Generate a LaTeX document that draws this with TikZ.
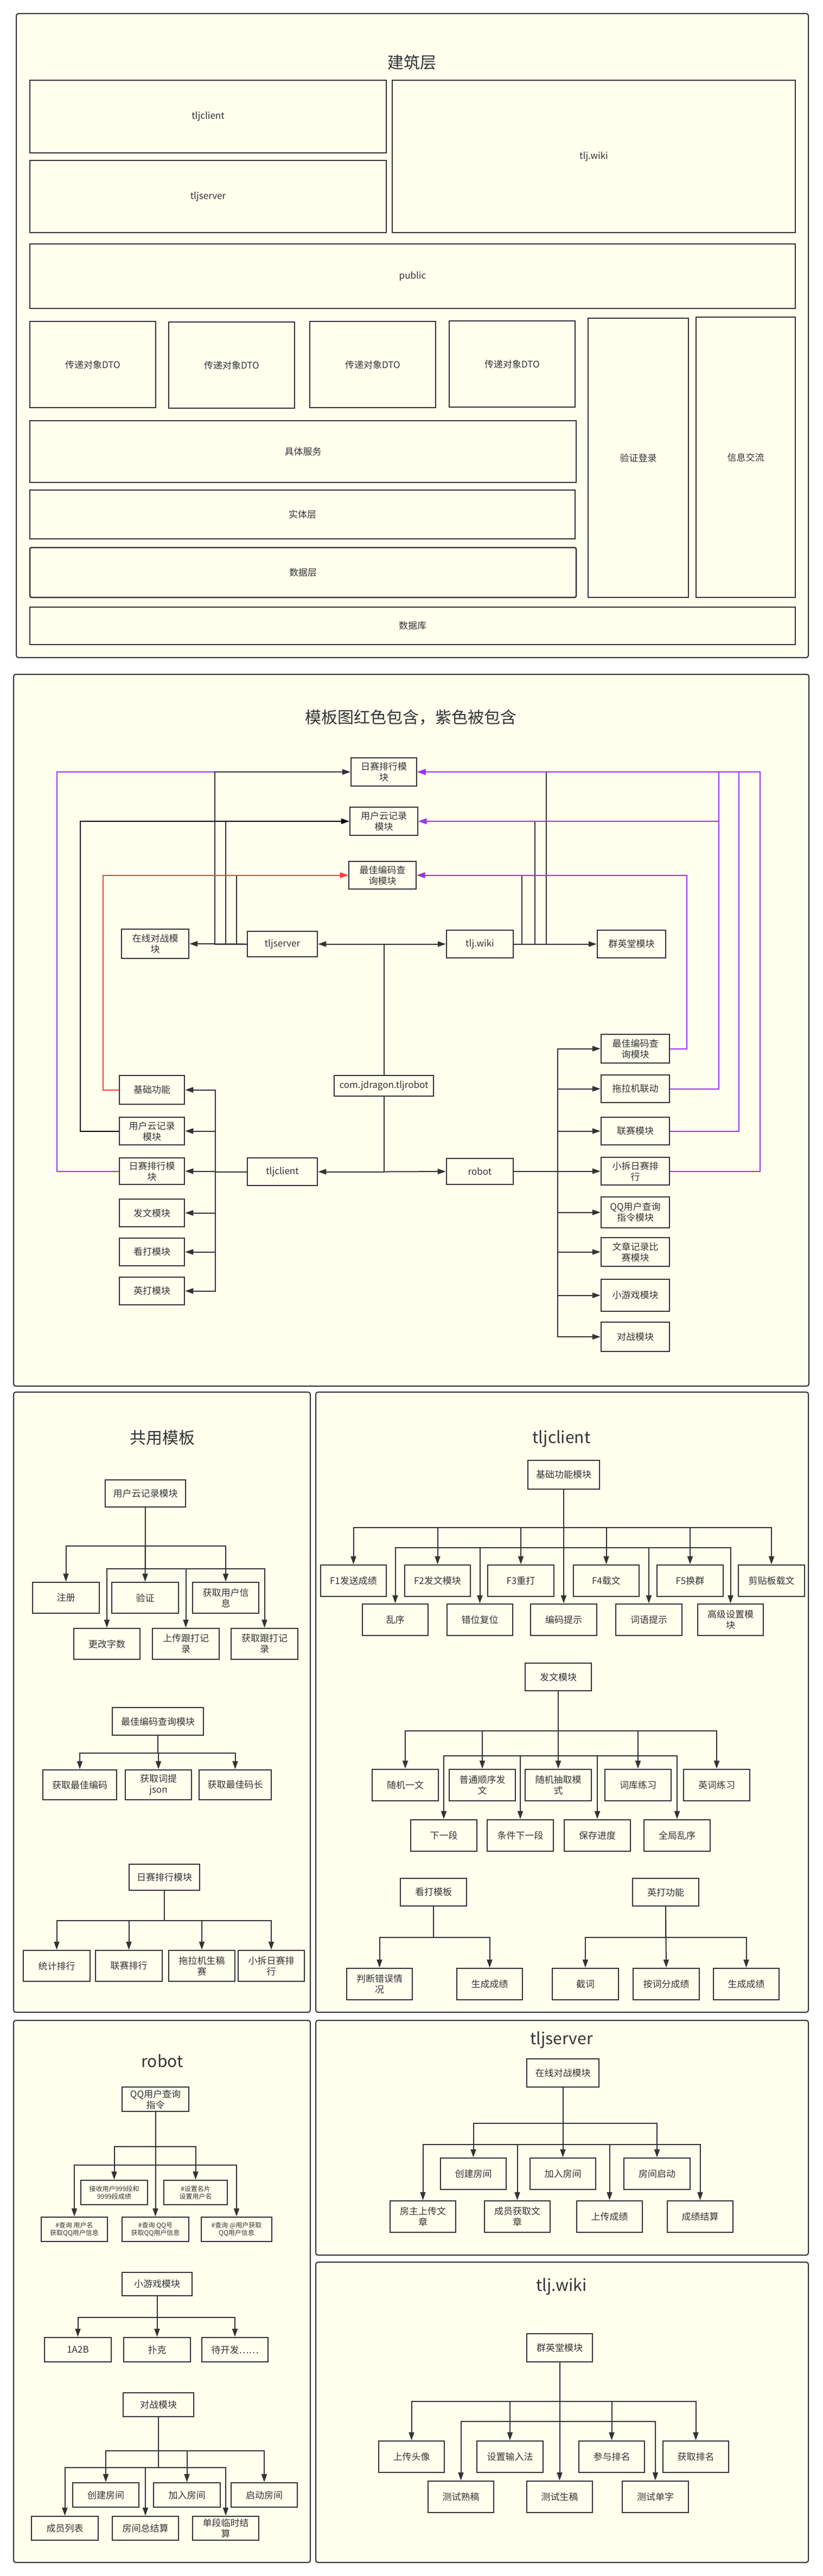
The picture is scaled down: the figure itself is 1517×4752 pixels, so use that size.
\documentclass[tikz,border=0pt]{standalone}
\usepackage{fontspec}
\setmainfont{Noto Sans CJK SC}
\usetikzlibrary{arrows.meta}
\definecolor{bg}{HTML}{FFFFEE}
\definecolor{ln}{HTML}{333333}
\definecolor{pur}{HTML}{9933FF}
\definecolor{rd}{HTML}{FF3B3B}
\newcommand\mybox[6][]{%
  \pgfmathsetmacro\bxw{#4-#2}\pgfmathsetmacro\bxh{#6-#5}%
  \pgfmathsetmacro\bxx{(#2+#4)/2}\pgfmathsetmacro\bxy{(#5+#6)/2}%
  \node[box,#1,minimum width=\bxw pt,minimum height=\bxh pt] (#3) at (\bxx,\bxy)}
% usage: \mybox[style]{x1}{name}{x2}{y1}{y2} {text};
\begin{document}
\begin{tikzpicture}[x=1pt,y=-1pt,
  panel/.style={draw=ln,line width=2pt,fill=bg,rounded corners=4pt},
  box/.style={draw=ln,line width=2.5pt,fill=bg,inner sep=0pt,align=center,text=ln,font=\fontsize{17}{20}\selectfont},
  small/.style={font=\fontsize{12}{14}\selectfont},
  ttl/.style={text=ln,font=\fontsize{30}{36}\selectfont},
  tip/.style={-{Triangle[length=15pt,width=10pt]}},
  arr/.style={draw=ln,line width=2pt,tip},
  plain/.style={draw=ln,line width=2pt},
  parr/.style={draw=pur,line width=2pt,tip},
  rarr/.style={draw=rd,line width=2pt,tip},
  barr/.style={draw=black,line width=2pt,tip}]
\useasboundingbox (0,0) rectangle (1517,4752);
\fill[white] (0,0) rectangle (1517,4752);

% ===== Panel 1: architecture =====
\draw[panel] (30,25) rectangle (1490,1213);
\node[ttl] (t1) at (759,115) {建筑层};
\mybox{55}{aclient}{712}{148}{282} {tljclient};
\mybox{55}{aserver}{712}{296}{429} {tljserver};
\mybox{723}{awiki}{1466}{148}{429} {tlj.wiki};
\mybox{55}{apublic}{1466}{450}{569} {public};
\mybox{55}{adto1}{287}{593}{752} {传递对象DTO};
\mybox{311}{adto2}{543}{594}{753} {传递对象DTO};
\mybox{571}{adto3}{803}{593}{752} {传递对象DTO};
\mybox{828}{adto4}{1060}{592}{751} {传递对象DTO};
\mybox{1084}{alogin}{1269}{587}{1102} {验证登录};
\mybox{1283}{amsg}{1466}{585}{1102} {信息交流};
\mybox{55}{asvc}{1062}{776}{890} {具体服务};
\mybox{55}{aent}{1060}{904}{994} {实体层};
\mybox[rounded corners=3pt]{55}{adata}{1062}{1010}{1102} {数据层};
\mybox{55}{adb}{1466}{1120}{1189} {数据库};

% ===== Panel 2: template graph =====
\draw[panel] (25,1244) rectangle (1491,2557);
\node[ttl] (t2) at (757,1323) {模板图红色包含，紫色被包含};
\mybox{647}{trs}{768}{1398}{1450} {日赛排行模\\块};
\mybox{645}{tyh}{770}{1489}{1541} {用户云记录\\模块};
\mybox{643}{tzj}{767}{1589}{1640} {最佳编码查\\询模块};
\mybox{224}{zx}{348}{1714}{1768} {在线对战模\\块};
\mybox{456}{server}{585}{1718}{1765} {tljserver};
\mybox{823}{wiki}{946}{1716}{1767} {tlj.wiki};
\mybox{1101}{qyt}{1227}{1716}{1767} {群英堂模块};
\mybox{616}{core}{799}{1984}{2022} {com.jdragon.tljrobot};
\mybox{456}{client}{585}{2136}{2187} {tljclient};
\mybox{823}{robot}{946}{2137}{2185} {robot};
\mybox{220}{La}{340}{1984}{2037} {基础功能};
\mybox{220}{Lb}{340}{2061}{2112} {用户云记录\\模块};
\mybox{220}{Lc}{340}{2136}{2185} {日赛排行模\\块};
\mybox{220}{Ld}{340}{2212}{2263} {发文模块};
\mybox{220}{Le}{340}{2284}{2335} {看打模块};
\mybox{220}{Lf}{340}{2356}{2407} {英打模块};
\mybox{1108}{Ra}{1234}{1908}{1961} {最佳编码查\\询模块};
\mybox{1108}{Rb}{1234}{1983}{2034} {拖拉机联动};
\mybox{1108}{Rc}{1234}{2061}{2112} {联赛模块};
\mybox{1108}{Rd}{1234}{2135}{2186} {小拆日赛排\\行};
\mybox{1108}{Re}{1234}{2208}{2265} {QQ用户查询\\指令模块};
\mybox{1108}{Rf}{1234}{2283}{2336} {文章记录比\\赛模块};
\mybox{1108}{Rg}{1234}{2360}{2419} {小游戏模块};
\mybox{1108}{Rh}{1234}{2439}{2493} {对战模块};

% core links
\coordinate (j1) at (core.north |- server.east);
\coordinate (j2) at (core.south |- client.east);
\draw[plain] (core.north) -- (j1);
\draw[plain] (core.south) -- (j2);
\draw[arr] (j1) -- (server.east);
\draw[arr] (j1) -- (wiki.west);
\draw[arr] (j2) -- (client.east);
\draw[arr] (j2) -- (robot.west);
% purple from left 日赛排行 (drawn first, overdrawn by server)
\draw[parr] (Lc.west) -- ++(-114,0) |- (trs.west);
% tljserver
\draw[arr] (server.west) -- (zx.east);
\draw[arr] (server.west) -- ++(-59,0) |- (trs.west);
\draw[arr] (server.west) -- ++(-39,0) |- (tyh.west);
\draw[arr] (server.west) -- ++(-19,0) |- (tzj.west);
% black and red
\draw[barr] (Lb.west) -- ++(-71,0) |- (tyh.west);
\draw[rarr] (La.west) -- ++(-29,0) |- (tzj.west);
% tlj.wiki
\draw[arr] (wiki.east) -- (qyt.west);
\draw[arr] (wiki.east) -- ++(15,0) |- (tzj.east);
\draw[arr] (wiki.east) -- ++(39,0) |- (tyh.east);
\draw[arr] (wiki.east) -- ++(60,0) |- (trs.east);
% purple from right
\draw[parr] (Ra.east) -- ++(31,0) |- (tzj.east);
\draw[parr] (Rb.east) -- ++(90,0) |- (tyh.east);
\draw[parr] (Rb.east) -- ++(90,0) |- (trs.east);
\draw[parr] (Rc.east) -- ++(127,0) |- (trs.east);
\draw[parr] (Rd.east) -- ++(166,0) |- (trs.east);
% tljclient
\foreach \n in {La,Lb,Lc,Ld,Le,Lf}
  \draw[arr] (client.west) -- ++(-58,0) |- (\n.east);
% robot
\foreach \n in {Ra,Rb,Rc,Rd,Re,Rf,Rg,Rh}
  \draw[arr] (robot.east) -- ++(81,0) |- (\n.west);

% ===== Panel 3: 共用模板 =====
\draw[panel] (25,2568) rectangle (572,3712);
\node[ttl] (t3) at (299,2652) {共用模板};
\mybox{194}{a0}{342}{2730}{2780} {用户云记录模块};
\mybox{60}{a1}{183}{2919}{2976} {注册};
\mybox{206}{a2}{329}{2919}{2976} {验证};
\mybox{355}{a3}{477}{2919}{2976} {获取用户信\\息};
\mybox{136}{a4}{258}{3004}{3061} {更改字数};
\mybox{281}{a5}{404}{3004}{3061} {上传跟打记\\录};
\mybox{426}{a6}{549}{3004}{3061} {获取跟打记\\录};
\draw[arr] (a0.south) -- (a2.north);
\foreach \n in {a1,a3} \draw[arr] (a0.south) -- ++(0,71) -| (\n.north);
\foreach \n in {a4,a5,a6} \draw[arr] (a0.south) -- ++(0,113) -| (\n.north);
\mybox{207}{b0}{375}{3150}{3201} {最佳编码查询模块};
\mybox{79}{b1}{215}{3265}{3320} {获取最佳编码};
\mybox{231}{b2}{353}{3265}{3320} {获取词提\\json};
\mybox{367}{b3}{500}{3265}{3320} {获取最佳码长};
\foreach \n in {b1,b2,b3} \draw[arr] (b0.south) -- ++(0,32) -| (\n.north);
\mybox{238}{c0}{368}{3439}{3487} {日赛排行模块};
\mybox{43}{c1}{166}{3598}{3655} {统计排行};
\mybox{176}{c2}{299}{3598}{3655} {联赛排行};
\mybox{311}{c3}{433}{3598}{3655} {拖拉机生稿\\赛};
\mybox{439}{c4}{561}{3598}{3655} {小拆日赛排\\行};
\foreach \n in {c1,c2,c3,c4} \draw[arr] (c0.south) -- ++(0,55) -| (\n.north);

% ===== Panel 4: tljclient =====
\draw[panel] (582,2568) rectangle (1490,3712);
\node[ttl] (t4) at (1035,2654) {tljclient};
\mybox{973}{d0}{1105}{2694}{2747} {基础功能模块};
\mybox{591}{d1}{712}{2887}{2945} {F1发送成绩};
\mybox{746}{d2}{867}{2887}{2945} {F2发文模块};
\mybox{899}{d3}{1021}{2887}{2945} {F3重打};
\mybox{1057}{d4}{1178}{2887}{2945} {F4载文};
\mybox{1211}{d5}{1333}{2887}{2945} {F5换群};
\mybox{1361}{d6}{1483}{2887}{2945} {剪贴板载文};
\mybox{668}{e1}{789}{2959}{3017} {乱序};
\mybox{824}{e2}{945}{2959}{3017} {错位复位};
\mybox{978}{e3}{1100}{2959}{3017} {编码提示};
\mybox{1135}{e4}{1257}{2959}{3017} {词语提示};
\mybox{1286}{e5}{1407}{2959}{3017} {高级设置模\\块};
\foreach \n in {d1,d2,d3,d4,d5,d6} \draw[arr] (d0.south) -- ++(0,70) -| (\n.north);
\foreach \n in {e1,e2,e4,e5} \draw[arr] (d0.south) -- ++(0,107) -| (\n.north);
\draw[arr] (d0.south) -- (e3.north);
\mybox{968}{f0}{1090}{3068}{3119} {发文模块};
\mybox{686}{f1}{808}{3264}{3322} {随机一文};
\mybox{828}{f2}{950}{3264}{3322} {普通顺序发\\文};
\mybox{968}{f3}{1090}{3264}{3322} {随机抽取模\\式};
\mybox{1115}{f4}{1237}{3264}{3322} {词库练习};
\mybox{1260}{f5}{1382}{3264}{3322} {英词练习};
\mybox{757}{g1}{879}{3357}{3415} {下一段};
\mybox{898}{g2}{1020}{3357}{3415} {条件下一段};
\mybox{1040}{g3}{1162}{3357}{3415} {保存进度};
\mybox{1187}{g4}{1309}{3357}{3415} {全局乱序};
\foreach \n in {f1,f2,f4,f5} \draw[arr] (f0.south) -- ++(0,73) -| (\n.north);
\draw[arr] (f0.south) -- (f3.north);
\foreach \n in {g1,g2,g3,g4} \draw[arr] (f0.south) -- ++(0,119) -| (\n.north);
\mybox{738}{h0}{860}{3465}{3516} {看打模板};
\mybox{639}{h1}{760}{3631}{3689} {判断错误情\\况};
\mybox{842}{h2}{963}{3631}{3689} {生成成绩};
\foreach \n in {h1,h2} \draw[arr] (h0.south) -- ++(0,57) -| (\n.north);
\mybox{1166}{k0}{1288}{3465}{3516} {英打功能};
\mybox{1018}{k1}{1140}{3631}{3689} {截词};
\mybox{1167}{k2}{1289}{3631}{3689} {按词分成绩};
\mybox{1315}{k3}{1436}{3631}{3689} {生成成绩};
\foreach \n in {k1,k3} \draw[arr] (k0.south) -- ++(0,57) -| (\n.north);
\draw[arr] (k0.south) -- (k2.north);

% ===== Panel 5: robot =====
\draw[panel] (25,3727) rectangle (572,4727);
\node[ttl] (t5) at (299,3802) {robot};
\mybox{225}{m0}{348}{3850}{3895} {QQ用户查询\\指令};
\mybox[small]{149}{m1}{272}{4022}{4067} {接收用户999段和\\9999段成绩};
\mybox[small]{302}{m2}{419}{4022}{4067} {\#设置名片\\设置用户名};
\mybox[small]{76}{m3}{198}{4090}{4135} {\#查询 用户名\\获取QQ用户信息};
\mybox[small]{225}{m4}{348}{4090}{4135} {\#查询 QQ号\\获取QQ用户信息};
\mybox[small]{371}{m5}{501}{4090}{4135} {\#查询 @用户获取\\QQ用户信息};
\foreach \n in {m1,m2} \draw[arr] (m0.south) -- ++(0,64) -| (\n.north);
\foreach \n in {m3,m5} \draw[arr] (m0.south) -- ++(0,98) -| (\n.north);
\draw[arr] (m0.south) -- (m4.north);
\mybox{225}{n0}{354}{4192}{4235} {小游戏模块};
\mybox{82}{n1}{205}{4312}{4357} {1A2B};
\mybox{228}{n2}{351}{4312}{4357} {扑克};
\mybox{372}{n3}{494}{4312}{4357} {待开发……};
\foreach \n in {n1,n3} \draw[arr] (n0.south) -- ++(0,39) -| (\n.north);
\draw[arr] (n0.south) -- (n0.south |- n2.north);
\mybox{227}{p0}{357}{4414}{4458} {对战模块};
\mybox{134}{p1}{256}{4580}{4625} {创建房间};
\mybox{283}{p2}{406}{4580}{4625} {加入房间};
\mybox{426}{p3}{548}{4580}{4625} {启动房间};
\mybox{58}{p4}{181}{4642}{4686} {成员列表};
\mybox{207}{p5}{329}{4642}{4686} {房间总结算};
\mybox{355}{p6}{477}{4642}{4686} {单段临时结\\算};
\foreach \n in {p1,p2,p3} \draw[arr] (p0.south) -- ++(0,62) -| (\n.north);
\foreach \n in {p4,p5,p6} \draw[arr] (p0.south) -- ++(0,93) -| (\n.north);

% ===== Panel 6: tljserver =====
\draw[panel] (582,3727) rectangle (1490,4160);
\node[ttl] (t6) at (1035,3763) {tljserver};
\mybox{971}{s0}{1104}{3798}{3850} {在线对战模块};
\mybox{812}{s1}{933}{3981}{4039} {创建房间};
\mybox{977}{s2}{1098}{3981}{4039} {加入房间};
\mybox{1150}{s3}{1272}{3981}{4039} {房间启动};
\mybox{719}{s4}{840}{4060}{4118} {房主上传文\\章};
\mybox{893}{s5}{1014}{4060}{4118} {成员获取文\\章};
\mybox{1063}{s6}{1184}{4060}{4118} {上传成绩};
\mybox{1230}{s7}{1351}{4060}{4118} {成绩结算};
\foreach \n in {s1,s3} \draw[arr] (s0.south) -- ++(0,66) -| (\n.north);
\draw[arr] (s0.south) -- (s0.south |- s2.north);
\foreach \n in {s4,s5,s6,s7} \draw[arr] (s0.south) -- ++(0,105) -| (\n.north);

% ===== Panel 7: tlj.wiki =====
\draw[panel] (582,4173) rectangle (1490,4727);
\node[ttl] (t7) at (1035,4218) {tlj.wiki};
\mybox{971}{w0}{1092}{4305}{4357} {群英堂模块};
\mybox{698}{w1}{819}{4503}{4561} {上传头像};
\mybox{879}{w2}{1001}{4503}{4561} {设置输入法};
\mybox{1067}{w3}{1188}{4503}{4561} {参与排名};
\mybox{1222}{w4}{1343}{4503}{4561} {获取排名};
\mybox{789}{w5}{910}{4577}{4635} {测试熟稿};
\mybox{971}{w6}{1092}{4577}{4635} {测试生稿};
\mybox{1147}{w7}{1269}{4577}{4635} {测试单字};
\foreach \n in {w1,w2,w3,w4} \draw[arr] (w0.south) -- ++(0,72) -| (\n.north);
\foreach \n in {w5,w7} \draw[arr] (w0.south) -- ++(0,109) -| (\n.north);
\draw[arr] (w0.south) -- (w6.north);
\end{tikzpicture}
\end{document}
